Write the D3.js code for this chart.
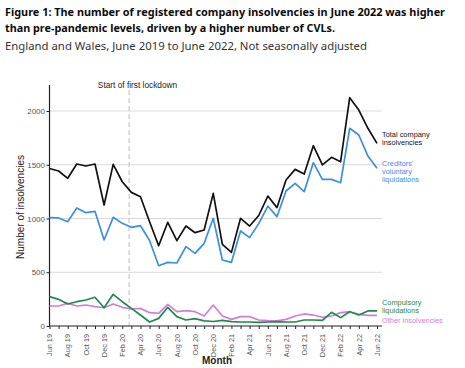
<!DOCTYPE html>
<html>
<head>
<meta charset="utf-8">
<script src="https://cdn.jsdelivr.net/npm/d3@7"></script>
<style>
  html, body { margin: 0; padding: 0; background: #fff; }
  svg { display: block; }
</style>
</head>
<body>
<svg id="chart" width="465" height="368"></svg>
<script>
// ---------- data ----------
const months = ["Jun 19","Jul 19","Aug 19","Sep 19","Oct 19","Nov 19","Dec 19","Jan 20","Feb 20","Mar 20","Apr 20","May 20",
  "Jun 20","Jul 20","Aug 20","Sep 20","Oct 20","Nov 20","Dec 20","Jan 21","Feb 21","Mar 21","Apr 21","May 21",
  "Jun 21","Jul 21","Aug 21","Sep 21","Oct 21","Nov 21","Dec 21","Jan 22","Feb 22","Mar 22","Apr 22","May 22","Jun 22"];
const totalCompany = [1465,1442,1374,1507,1488,1507,1126,1504,1342,1243,1203,970,
  747,965,794,930,868,893,1234,760,685,1002,930,1028,
  1209,1101,1358,1457,1414,1677,1498,1569,1528,2124,2009,1839,1699];
const cvl = [1008,1005,970,1098,1054,1067,800,1011,955,918,933,795,
  561,592,586,738,676,769,1002,614,592,884,822,952,
  1116,1017,1256,1327,1250,1519,1364,1364,1333,1839,1777,1581,1467];
const compulsory = [273,248,205,226,242,267,170,295,226,164,102,37,
  71,174,87,56,68,47,42,53,40,37,37,34,
  37,40,37,37,56,56,53,127,78,133,102,140,140];
const other = [186,186,211,186,195,180,170,205,174,158,164,124,
  118,202,133,143,133,93,195,93,62,87,87,56,
  50,47,62,93,112,102,81,93,124,133,109,99,99];
const yTicks = [0,500,1000,1500,2000];
const lockdownIndex = 8.75;
const series = [
  {name:"total", values: totalCompany, color:"#111111", label:["Total company","insolvencies"]},
  {name:"cvl", values: cvl, color:"#3b8fe0", label:["Creditors'","voluntary","liquidations"]},
  {name:"comp", values: compulsory, color:"#1f8a4a", label:["Compulsory","liquidations"]},
  {name:"other", values: other, color:"#d27ed6", label:["Other insolvencies"]}
];

// ---------- layout ----------
const svg = d3.select("#chart");
const x = d3.scaleLinear().domain([0, 36]).range([49.5, 377]);
const y = d3.scaleLinear().domain([0, 2000]).range([326, 111]);
const plotRight = 382, plotTop = 85;

// Titles
svg.append("text").attr("x",5).attr("y",15.5)
  .attr("font-family","Noto Sans, sans-serif").attr("font-weight","bold").attr("font-size",11.2).attr("fill","#0b0c0c")
  .attr("textLength",440).attr("lengthAdjust","spacingAndGlyphs")
  .text("Figure 1: The number of registered company insolvencies in June 2022 was higher");
svg.append("text").attr("x",5).attr("y",31.5)
  .attr("font-family","Noto Sans, sans-serif").attr("font-weight","bold").attr("font-size",11.2).attr("fill","#0b0c0c")
  .attr("textLength",330).attr("lengthAdjust","spacingAndGlyphs")
  .text("than pre-pandemic levels, driven by a higher number of CVLs.");
svg.append("text").attr("x",5).attr("y",50)
  .attr("font-family","Noto Sans, sans-serif").attr("font-size",11.3).attr("fill","#333")
  .attr("textLength",362).attr("lengthAdjust","spacingAndGlyphs")
  .text("England and Wales, June 2019 to June 2022, Not seasonally adjusted");

const g = svg.append("g").attr("font-family","Liberation Sans, Arial, sans-serif");

// gridlines
g.selectAll("line.grid").data(yTicks.filter(d=>d>0)).join("line")
  .attr("class","grid").attr("x1",x(0)).attr("x2",plotRight)
  .attr("y1",d=>y(d)).attr("y2",d=>y(d)).attr("stroke","#d9d9d9").attr("stroke-width",1);

// y axis
const yAxis = d3.axisLeft(y).tickValues(yTicks).tickSize(3).tickSizeOuter(0).tickFormat(d3.format("d"));
const yg = g.append("g").attr("transform",`translate(${x(0)},0)`).call(yAxis);
yg.select(".domain").remove();
yg.selectAll("text").attr("font-size",8).attr("fill","#555").attr("font-family","Liberation Sans, Arial, sans-serif").attr("x",-4.5);
yg.selectAll(".tick line").attr("stroke","#222");
g.append("line").attr("x1",x(0)).attr("x2",x(0)).attr("y1",plotTop).attr("y2",y(0)).attr("stroke","#222").attr("stroke-width",1.2);

// lockdown dashed line
g.append("line").attr("x1",x(lockdownIndex)).attr("x2",x(lockdownIndex)).attr("y1",90).attr("y2",y(0))
  .attr("stroke","#c8c8c8").attr("stroke-width",1.2).attr("stroke-dasharray","5,3");
g.append("text").attr("x",137.5).attr("y",88).attr("text-anchor","middle")
  .attr("font-size",8.3).attr("fill","#222").text("Start of first lockdown");

// x axis
const xAxis = d3.axisBottom(x).tickValues(d3.range(0,37)).tickSize(3).tickSizeOuter(0).tickFormat("");
const xg = g.append("g").attr("transform",`translate(0,${y(0)})`).call(xAxis);
xg.select(".domain").attr("d",`M${x(0)},0H${plotRight}`).attr("stroke","#222").attr("stroke-width",1.2);
xg.selectAll(".tick line").attr("stroke","#222");
g.selectAll("text.xlab").data(months.map((m,i)=>({m,i})).filter(d=>d.i%2===0)).join("text")
  .attr("class","xlab").attr("text-anchor","end").attr("font-size",7.3).attr("fill","#555")
  .attr("transform",d=>`translate(${x(d.i)+2.7},${y(0)+8}) rotate(-90)`).text(d=>d.m);

// axis titles
g.append("text").attr("transform","translate(24,207) rotate(-90)").attr("text-anchor","middle")
  .attr("font-size",10).attr("fill","#222").text("Number of insolvencies");
g.append("text").attr("x",217).attr("y",364).attr("text-anchor","middle")
  .attr("font-size",10).attr("font-weight","bold").attr("fill","#222").text("Month");

// lines
const line = d3.line().x((d,i)=>x(i)).y(d=>y(d));
g.selectAll("path.series").data(series.slice().reverse()).join("path")
  .attr("class","series").attr("fill","none").attr("stroke",d=>d.color).attr("stroke-width",1.7)
  .attr("stroke-linejoin","round").attr("d",d=>line(d.values));

// end labels
const labelPos = {total:[136.5,8.4], cvl:[165.5,8.4], comp:[305,8.4], other:[322.5,8.4]};
series.forEach(s=>{
  const [y0,lh] = labelPos[s.name];
  const t = g.append("text").attr("x",plotRight).attr("y",y0).attr("font-size",7.4).attr("fill",s.color);
  s.label.forEach((l,k)=>t.append("tspan").attr("x",plotRight).attr("y",y0+k*lh).text(l));
});
</script>
</body>
</html>
